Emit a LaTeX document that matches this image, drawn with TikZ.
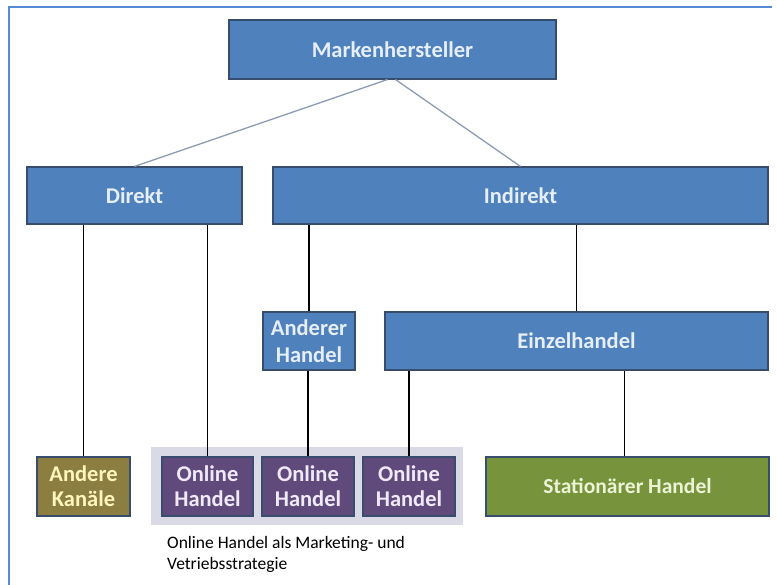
\documentclass[tikz,border=0pt]{standalone}
\usepackage{fontspec}
\setmainfont{Carlito}
\definecolor{frameblue}{RGB}{84,139,212}
\definecolor{boxblue}{RGB}{79,129,189}
\definecolor{boxline}{RGB}{56,76,110}
\definecolor{bluetext}{RGB}{230,238,248}
\definecolor{boxpurple}{RGB}{96,74,123}
\definecolor{purpletext}{RGB}{240,234,248}
\definecolor{boxolive}{RGB}{140,125,64}
\definecolor{olivetext}{RGB}{255,246,190}
\definecolor{boxgreen}{RGB}{119,147,60}
\definecolor{greentext}{RGB}{236,244,214}
\definecolor{groupgray}{RGB}{218,217,230}
\definecolor{linkgray}{RGB}{140,155,178}
\tikzset{
  base/.style={draw=boxline, line width=1.1pt, rectangle, inner sep=0pt, align=center,
    font=\bfseries\fontsize{22.5}{25}\selectfont},
  bluebox/.style={base, fill=boxblue, text=bluetext},
  purplebox/.style={base, fill=boxpurple, text=purpletext, minimum height=59pt},
  olivebox/.style={base, fill=boxolive, text=olivetext, minimum height=59pt},
  greenbox/.style={base, fill=boxgreen, text=greentext, minimum height=59pt},
  upper/.style={linkgray, line width=1.3pt},
  branch/.style={black, line width=1.3pt},
}
\begin{document}
\begin{tikzpicture}[x=1pt, y=-1pt]
  \useasboundingbox (0,0) rectangle (777,585);
  % outer frame: only left and top edges
  \draw[frameblue, line width=2.8pt] (9,585) -- (9,7) -- (772,7);

  % group backdrop for the online channels
  \fill[groupgray] (151,447) rectangle (463,525);

  % top level
  \node[bluebox, minimum width=327pt, minimum height=59pt] (mh) at (392.5,49.5) {Markenhersteller};
  % second level
  \node[bluebox, minimum width=215pt, minimum height=57pt] (direkt) at (134.5,195.5) {Direkt};
  \node[bluebox, minimum width=495pt, minimum height=57pt] (indirekt) at (520.5,195.5) {Indirekt};
  % third level
  \node[bluebox, minimum width=92pt, minimum height=58pt,
        font=\bfseries\fontsize{22.5}{27}\selectfont] (anderer) at (309,341) {Anderer\\Handel};
  \node[bluebox, minimum width=383pt, minimum height=58pt] (einzel) at (576.5,341) {Einzelhandel};
  % channels
  \node[olivebox, minimum width=93pt] (kanaele) at (83.5,486.5) {Andere\\Kanäle};
  \node[purplebox, minimum width=91pt] (online1) at (207.5,486.5) {Online\\Handel};
  \node[purplebox, minimum width=92pt] (online2) at (308,486.5) {Online\\Handel};
  \node[purplebox, minimum width=92pt] (online3) at (409,486.5) {Online\\Handel};
  \node[greenbox, minimum width=283pt, font=\bfseries\fontsize{21.5}{25}\selectfont] (stat) at (627.5,486.5) {Stationärer Handel};

  % caption under the group
  \node[anchor=north west, inner sep=0pt, align=left, font=\fontsize{17.5}{21}\selectfont]
    (caption) at (167,536) {Online Handel als Marketing- und\\Vetriebsstrategie};

  % connectors
  \draw[upper] ([xshift=-5pt]mh.south) -- (direkt.north);
  \draw[upper] ([xshift=3pt]mh.south) -- (indirekt.north);
  \draw[branch] (kanaele.north) -- (kanaele.north |- direkt.south);
  \draw[branch] (online1.north) -- (online1.north |- direkt.south);
  \draw[branch] (anderer.north) -- (anderer.north |- indirekt.south);
  \draw[branch] (einzel.north) -- (einzel.north |- indirekt.south);
  \draw[branch] (online2.north) -- (online2.north |- anderer.south);
  \draw[branch] (online3.north) -- (online3.north |- einzel.south);
  \draw[branch] ([xshift=-3pt]stat.north) -- ([xshift=-3pt]stat.north |- einzel.south);
\end{tikzpicture}
\end{document}
